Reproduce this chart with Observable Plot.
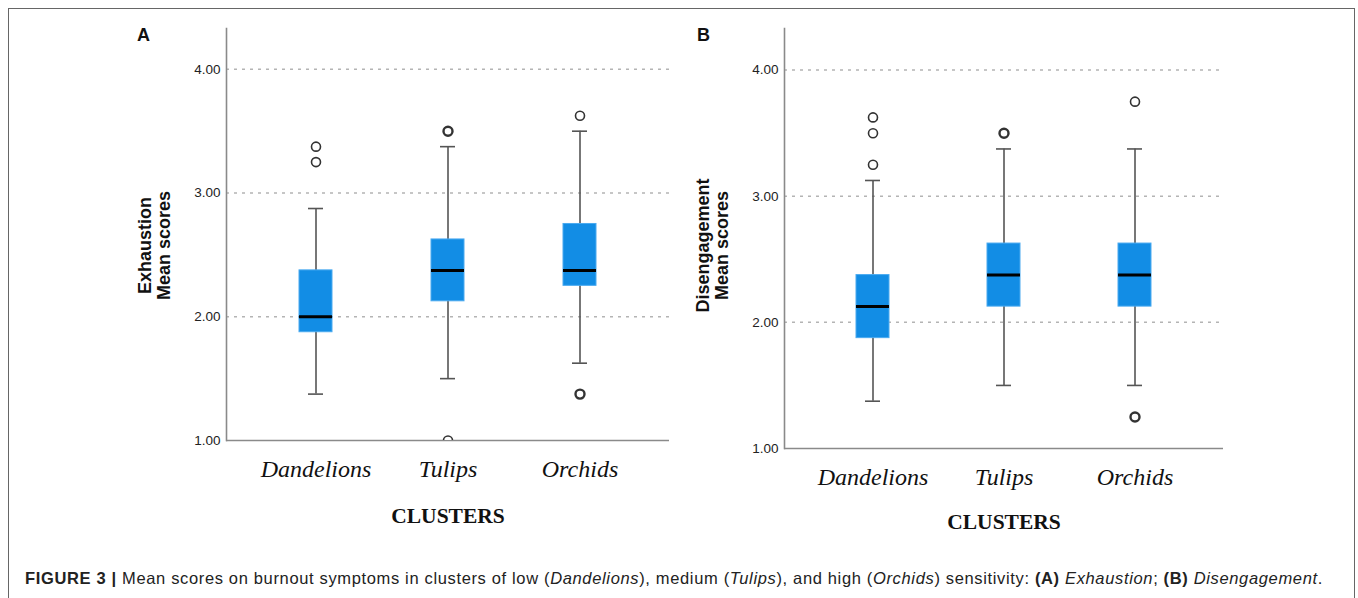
<!DOCTYPE html>
<html>
<head>
<meta charset="utf-8">
<script src="https://cdn.jsdelivr.net/npm/d3@7"></script>
<script src="https://cdn.jsdelivr.net/npm/@observablehq/plot@0.6"></script>
<style>
  html, body { margin: 0; padding: 0; background: #fff; }
  #page { position: relative; width: 1358px; height: 598px; overflow: hidden; font-family: "Liberation Sans", Arial, sans-serif; }
  #border { position: absolute; left: 8px; top: 8px; width: 1347px; height: 640px; border: 1px solid #666; box-sizing: border-box; }
  .panel { position: absolute; top: 0; }
  .letter { position: absolute; font-weight: bold; font-size: 18px; line-height: 1; color: #111; }
  #caption { position: absolute; left: 25px; top: 569px; font-size: 16.5px; line-height: 18px; color: #222; white-space: nowrap; }
</style>
</head>
<body>
<div id="page">
  <div id="border"></div>
  <div class="letter" style="left:137px; top:26px;">A</div>
  <div class="letter" style="left:697px; top:26px;">B</div>
  <div id="panelA" class="panel" style="left:10px;"></div>
  <div id="panelB" class="panel" style="left:560px;"></div>
  <div id="caption"><b>FIGURE 3 |</b> Mean scores on burnout symptoms in clusters of low (<i>Dandelions</i>), medium (<i>Tulips</i>), and high (<i>Orchids</i>) sensitivity: <b>(A)</b> <i>Exhaustion</i>; <b>(B)</b> <i>Disengagement</i>.</div>
</div>
<script>
// ---- Data ----
const clusters = ["Dandelions", "Tulips", "Orchids"];
const yTicks = [1, 2, 3, 4];
const gridTicks = [2, 3, 4];

// Panel A: Exhaustion
const exhLow = [1.375, 1.5, 1.625];
const exhQ1 = [1.875, 2.125, 2.25];
const exhMedian = [2.0, 2.375, 2.375];
const exhQ3 = [2.375, 2.625, 2.75];
const exhHigh = [2.875, 3.375, 3.5];
const exhOutCluster = ["Dandelions", "Dandelions", "Tulips", "Tulips", "Orchids", "Orchids"];
const exhOutValue = [3.25, 3.375, 3.5, 1.0, 3.625, 1.375];
const exhOutCount = [1, 1, 3, 1, 1, 2];

// Panel B: Disengagement
const disLow = [1.375, 1.5, 1.5];
const disQ1 = [1.875, 2.125, 2.125];
const disMedian = [2.125, 2.375, 2.375];
const disQ3 = [2.375, 2.625, 2.625];
const disHigh = [3.125, 3.375, 3.375];
const disOutCluster = ["Dandelions", "Dandelions", "Dandelions", "Tulips", "Orchids", "Orchids"];
const disOutValue = [3.25, 3.5, 3.625, 3.5, 3.75, 1.25];
const disOutCount = [1, 1, 1, 2, 1, 2];

function makeStats(low, q1, med, q3, high) {
  return clusters.map((c, i) => ({cluster: c, low: low[i], q1: q1[i], median: med[i], q3: q3[i], high: high[i]}));
}
function makeOutliers(cl, val, n) {
  return cl.map((c, i) => ({cluster: c, value: val[i], n: n[i]}));
}

function panel({stats, outliers, label, width, height, marginLeft, marginRight, labelDy, clustersDy}) {
  return Plot.plot({
    width, height,
    marginLeft, marginRight, marginTop: 28, marginBottom: 100,
    style: {background: "none", overflow: "visible"},
    x: {type: "band", domain: clusters, paddingInner: 0.75, paddingOuter: 0.55},
    y: {domain: [1, 4.33]},
    marks: [
      Plot.gridY(gridTicks, {stroke: "#b4b4b4", strokeOpacity: 1, strokeWidth: 1.5, strokeDasharray: "3,5"}),
      Plot.frame({anchor: "left", stroke: "#8a8a8a", strokeWidth: 1.6}),
      Plot.ruleY([1], {stroke: "#8a8a8a", strokeWidth: 1.6}),
      Plot.ruleX(stats, {x: "cluster", y1: "low", y2: "high", stroke: "#555", strokeWidth: 1.6}),
      Plot.tickY(stats, {x: "cluster", y: "low", stroke: "#555", strokeWidth: 1.6, inset: 9}),
      Plot.tickY(stats, {x: "cluster", y: "high", stroke: "#555", strokeWidth: 1.6, inset: 9}),
      Plot.barY(stats, {x: "cluster", y1: "q1", y2: "q3", fill: "#128de5", stroke: "#4aaaf0", strokeWidth: 1}),
      Plot.tickY(stats, {x: "cluster", y: "median", stroke: "#000", strokeWidth: 3}),
      Plot.dot(outliers, {x: "cluster", y: "value", r: 4.5, fill: "white", stroke: "#333", strokeWidth: d => d.n > 1 ? 2.4 : 1.6, clip: true}),
      Plot.axisY(yTicks, {tickSize: 0, tickPadding: 6, tickFormat: d3.format(".2f"), fontSize: 13.5, fill: "#222", fontFamily: "Liberation Sans, Arial, sans-serif", label: null}),
      Plot.axisX({tickSize: 0, tickPadding: 19, fontSize: 24, fontStyle: "italic", fontFamily: "Liberation Serif, Times New Roman, serif", fill: "#111", label: null}),
      Plot.text([label], {text: d => d, frameAnchor: "left", textAnchor: "middle", dx: -72, dy: labelDy, rotate: -90, fontWeight: "bold", fontSize: 18, lineHeight: 1.02, fill: "#111", fontFamily: "Liberation Sans, Arial, sans-serif"}),
      Plot.text(["CLUSTERS"], {text: d => d, frameAnchor: "bottom", dy: clustersDy, fontWeight: "bold", fontSize: 21.5, fill: "#111", fontFamily: "Liberation Serif, Times New Roman, serif"})
    ]
  });
}

document.getElementById("panelA").appendChild(panel({
  stats: makeStats(exhLow, exhQ1, exhMedian, exhQ3, exhHigh),
  outliers: makeOutliers(exhOutCluster, exhOutValue, exhOutCount),
  label: "Exhaustion\nMean scores",
  width: 670, height: 540, marginLeft: 216, marginRight: 11, labelDy: 11, clustersDy: 82
}));
document.getElementById("panelB").appendChild(panel({
  stats: makeStats(disLow, disQ1, disMedian, disQ3, disHigh),
  outliers: makeOutliers(disOutCluster, disOutValue, disOutCount),
  label: "Disengagement\nMean scores",
  width: 680, height: 548, marginLeft: 224, marginRight: 17, labelDy: 7, clustersDy: 80
}));

// fit caption to the reference width (25px .. 1323px)
const cap = document.getElementById("caption");
const w = cap.getBoundingClientRect().width;
const n = cap.textContent.length;
cap.style.letterSpacing = ((1298 - w) / n) + "px";
</script>
</body>
</html>
